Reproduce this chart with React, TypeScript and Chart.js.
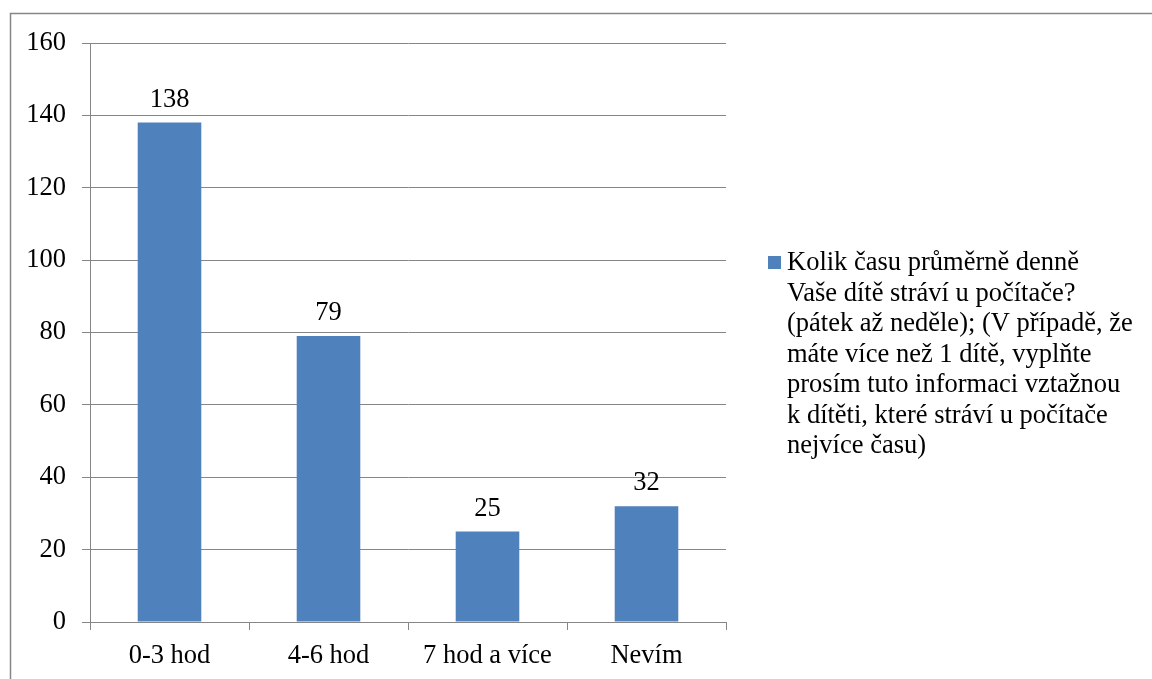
import React, { useEffect, useRef } from 'react';
import { Chart, registerables } from 'chart.js';

Chart.register(...registerables);

const categories: string[] = ['0-3 hod', '4-6 hod', '7 hod a více', 'Nevím'];
const values: number[] = [138, 79, 25, 32];
const legendLines: string[] = [
  'Kolik času průměrně denně',
  'Vaše dítě stráví u počítače?',
  '(pátek až neděle); (V případě, že',
  'máte více než 1 dítě, vyplňte',
  'prosím tuto informaci vztažnou',
  'k dítěti, které stráví u počítače',
  'nejvíce času)',
];
const seriesName: string = legendLines.join(' ');
const yMin = 0;
const yMax = 160;
const yStep = 20;

const FONT_FAMILY = "'Liberation Serif', 'Times New Roman', Times, serif";
const FONT_SIZE = 26.5;
const BAR_COLOR = '#4F81BD';
const LINE_COLOR = '#868686';

const customPlugin = {
  id: 'customDecor',
  beforeDraw(chart: any) {
    const { ctx, width, height } = chart;
    ctx.save();
    ctx.fillStyle = '#ffffff';
    ctx.fillRect(0, 0, width, height);
    ctx.strokeStyle = LINE_COLOR;
    ctx.lineWidth = 1.5;
    ctx.strokeRect(10.5, 13.5, width + 100, height + 100);
    ctx.restore();
  },
  afterDatasetsDraw(chart: any) {
    const { ctx } = chart;
    const meta = chart.getDatasetMeta(0);
    ctx.save();
    ctx.fillStyle = '#000000';
    ctx.font = `${FONT_SIZE}px ${FONT_FAMILY}`;
    ctx.textAlign = 'center';
    ctx.textBaseline = 'alphabetic';
    meta.data.forEach((bar: any, i: number) => {
      const v = chart.data.datasets[0].data[i];
      ctx.fillText(String(v), bar.x, bar.y - 16);
    });
    ctx.restore();
  },
  afterDraw(chart: any) {
    const { ctx, chartArea, height } = chart;
    const lh = 30.5;
    const n = legendLines.length;
    const firstBaseline = height / 2 - ((n - 1) * lh) / 2 + 22;
    const sqX = chartArea.right + 42;
    const textX = chartArea.right + 61;
    ctx.save();
    ctx.fillStyle = BAR_COLOR;
    ctx.fillRect(sqX, firstBaseline - 14, 13, 13);
    ctx.fillStyle = '#000000';
    ctx.font = `${FONT_SIZE}px ${FONT_FAMILY}`;
    ctx.textAlign = 'left';
    ctx.textBaseline = 'alphabetic';
    legendLines.forEach((line, i) => {
      ctx.fillText(line, textX, firstBaseline + i * lh);
    });
    ctx.restore();
  },
};

export default function App() {
  const canvasRef = useRef<HTMLCanvasElement | null>(null);

  useEffect(() => {
    document.body.style.margin = '0';
    const canvas = canvasRef.current;
    if (!canvas) return;
    let chart: Chart | null = null;
    let cancelled = false;
    const build = () => {
      if (cancelled) return;
      chart = new Chart(canvas, {
        type: 'bar',
        data: {
          labels: categories,
          datasets: [
            {
              label: seriesName,
              data: values,
              backgroundColor: BAR_COLOR,
              borderWidth: 0,
              barPercentage: 0.4,
              categoryPercentage: 1,
            },
          ],
        },
        options: {
          responsive: false,
          animation: false,
          devicePixelRatio: 1,
          layout: { padding: { left: 0, top: 43, right: 1152 - 726, bottom: 0 } },
          plugins: {
            legend: { display: false },
            tooltip: { enabled: false },
          },
          scales: {
            x: {
              grid: {
                display: true,
                drawOnChartArea: false,
                drawTicks: true,
                tickLength: 8,
                color: LINE_COLOR,
                offset: true,
              },
              border: { color: LINE_COLOR, width: 1 },
              ticks: {
                color: '#000000',
                font: { family: FONT_FAMILY, size: FONT_SIZE },
                padding: 10,
                maxRotation: 0,
                autoSkip: false,
              },
              afterFit(scale: any) {
                scale.height = 57;
              },
            },
            y: {
              min: yMin,
              max: yMax,
              grid: {
                color: LINE_COLOR,
                tickLength: 8,
                drawTicks: true,
              },
              border: { color: LINE_COLOR, width: 1 },
              ticks: {
                stepSize: yStep,
                color: '#000000',
                font: { family: FONT_FAMILY, size: FONT_SIZE },
                padding: 16,
              },
              afterFit(scale: any) {
                scale.width = 90;
              },
            },
          },
        },
        plugins: [customPlugin],
      });
    };
    const fontsApi: any = (document as any).fonts;
    if (fontsApi && fontsApi.load) {
      Promise.all([
        fontsApi.load(`${FONT_SIZE}px 'Liberation Serif'`),
        fontsApi.load(`${FONT_SIZE}px 'Times New Roman'`),
      ])
        .catch(() => null)
        .then(() => build());
    } else {
      build();
    }
    return () => {
      cancelled = true;
      if (chart) chart.destroy();
    };
  }, []);

  return (
    <div style={{ position: 'absolute', left: 0, top: 0, width: 1152, height: 679 }}>
      <canvas ref={canvasRef} width={1152} height={679} style={{ display: 'block' }} />
    </div>
  );
}
